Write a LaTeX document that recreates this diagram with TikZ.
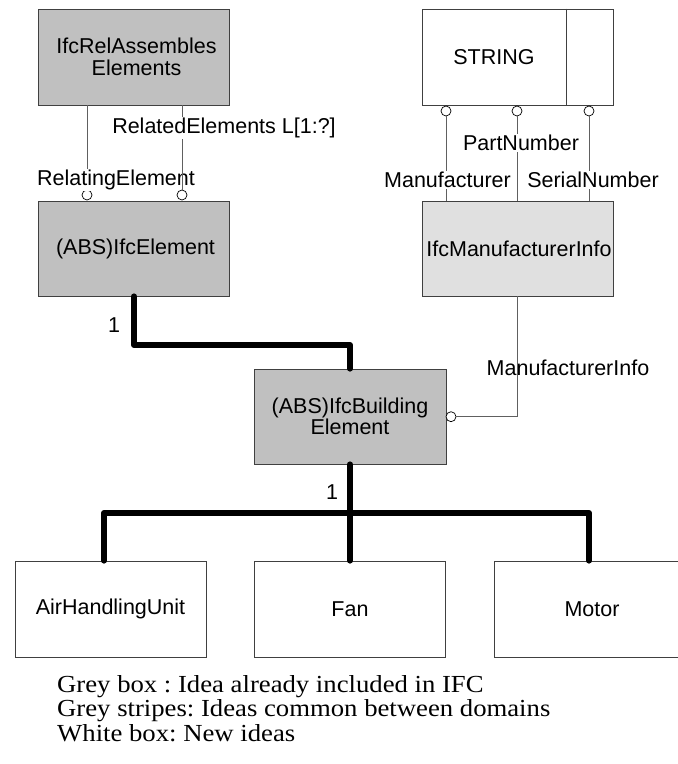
\documentclass[tikz,border=0pt]{standalone}
\usepackage{fontspec}
\usepackage{graphicx}
\setmainfont{Liberation Sans}
\newfontfamily\legendfont{Liberation Serif}
\definecolor{boxgrey}{HTML}{C0C0C0}
\definecolor{lightgrey}{HTML}{E0E0E0}
\definecolor{edge}{HTML}{404040}
\definecolor{conn}{HTML}{606060}
\newcommand{\legtext}[1]{\scalebox{1.09}[1.0]{#1}}
\frenchspacing
\begin{document}
\begin{tikzpicture}[x=1pt,y=-1pt,
  font=\fontsize{21.5}{21.5}\selectfont,
  box/.style={draw=edge, line width=0.8pt, inner sep=0pt, minimum width=191pt, align=center},
  greybox/.style={box, fill=boxgrey},
  lightbox/.style={box, fill=lightgrey},
  whitebox/.style={box, fill=white},
  thin/.style={draw=conn, line width=0.9pt},
  thick/.style={draw=black, line width=6pt, line cap=round, line join=round},
  ring/.style={circle, draw=black, line width=0.7pt, fill=white, minimum size=10pt, inner sep=0pt},
  lab/.style={inner sep=1pt, fill=white},
  nolab/.style={inner sep=1pt},
  legend/.style={font=\legendfont\fontsize{24.5}{24.5}\selectfont, anchor=base west, inner sep=0pt}
]
\clip (0,0) rectangle (678,764);

% boxes
\node[greybox, minimum height=96pt] (rel) at (133.5,57) {\hspace*{6pt}IfcRelAssembles\\[0pt]\hspace*{6pt}Elements};
\node[greybox, minimum height=95pt] (elem) at (133.5,248.5) {\hspace*{4pt}(ABS)IfcElement};
\node[whitebox, minimum height=96pt] (str) at (517.5,57) {};
\node[lightbox, minimum height=95pt] (mi) at (517.5,248.5) {\makebox[0pt]{\hspace*{3pt}IfcManufacturerInfo}};
\node[greybox, minimum width=192pt, minimum height=95pt] (be) at (350,416.5) {(ABS)IfcBuilding\\[0pt]Element};
\node[whitebox, minimum height=96pt] (ahu) at (110.5,609) {AirHandlingUnit};
\node[whitebox, minimum height=96pt] (fan) at (350,609) {Fan};
\node[whitebox, minimum height=96pt] (mot) at (589.5,609) {\hspace*{5pt}Motor};

% STRING box divider and text
\coordinate (div) at (566,0);
\draw[draw=edge, line width=0.8pt] (div |- str.north) -- (div |- str.south);
\node (strtxt) at (494,57) {STRING};

% IfcRelAssemblesElements -> IfcElement
\node[ring] (r1) at (87,195) {};
\draw[thin] (r1 |- rel.south) -- (r1.north);
\node[lab] (l1) at (116,180) {RelatingElement};
\node[ring] (r2) at (182,195) {};
\draw[thin] (r2 |- rel.south) -- (r2.north);
\node[lab] (l2) at (224,128) {RelatedElements L[1:?]};

% STRING -> IfcManufacturerInfo
\node[ring] (s1) at (446,111) {};
\node[ring] (s2) at (517,111) {};
\node[ring] (s3) at (589,111) {};
\draw[thin] (s1.south) -- (s1 |- mi.north);
\draw[thin] (s2.south) -- (s2 |- mi.north);
\draw[thin] (s3.south) -- (s3 |- mi.north);
\node[lab] (l3) at (521,143) {PartNumber};
\node[lab] (l4) at (447.5,180) {Manufacturer};
\node[lab] (l5) at (593,180) {SerialNumber};

% IfcManufacturerInfo -> IfcBuildingElement
\node[ring] (b1) at (451,416.7) {};
\coordinate (mcorner) at (517,416.7);
\draw[thin] (b1.east) -- (mcorner) -- (mcorner |- mi.south);
\node[nolab] (l6) at (568,368) {ManufacturerInfo};

% inheritance
\coordinate (k1) at (134,345);
\draw[thick] (k1 |- elem.south) -- (k1) -- (be.north |- k1) -- (be.north);
\node[nolab] (one1) at (114,325) {1};

\coordinate (bar) at (350,513);
\draw[thick] (be.south) -- (bar);
\coordinate (ka) at (104,513);
\coordinate (kc) at (589,513);
\draw[thick] (ka |- ahu.north) -- (ka) -- (kc) -- (kc |- mot.north);
\draw[thick] (bar) -- (fan.north);
\node[nolab] (one2) at (332,492) {1};

% legend
\node[legend] (g1) at (57,692) {\legtext{Grey box : Idea already included in IFC}};
\node[legend] (g2) at (57,716.5) {\legtext{Grey stripes: Ideas common between domains}};
\node[legend] (g3) at (57,741) {\legtext{White box: New ideas}};
\end{tikzpicture}
\end{document}
